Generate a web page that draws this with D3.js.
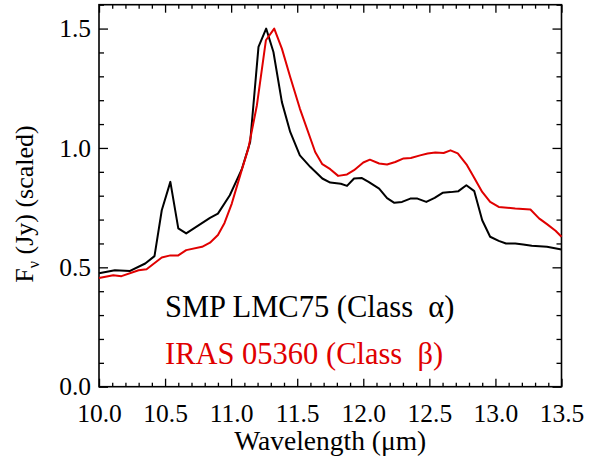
<!DOCTYPE html>
<html>
<head>
<meta charset="utf-8">
<script src="https://cdn.jsdelivr.net/npm/d3@7"></script>
<style>
    body { margin: 0; background: #fff; }
    text { font-family: "Liberation Serif", "DejaVu Serif", serif; }
</style>
</head>
<body>
<div id="graph"></div>
<script>
// Data___________________________________________________
const waveBlack = [10.00, 10.12, 10.235, 10.35, 10.42, 10.475, 10.54, 10.60, 10.66, 10.84,
    10.90, 10.99, 11.08, 11.144, 11.207, 11.265, 11.32, 11.384, 11.447, 11.52,
    11.60, 11.69, 11.75, 11.83, 11.877, 11.93, 11.99, 12.04, 12.12, 12.18,
    12.235, 12.293, 12.356, 12.41, 12.477, 12.54, 12.60, 12.66, 12.72, 12.78,
    12.84, 12.90, 12.96, 13.025, 13.08, 13.15, 13.21, 13.275, 13.39, 13.50];
const fluxBlack = [0.475, 0.488, 0.485, 0.516, 0.547, 0.739, 0.858, 0.663, 0.642, 0.707,
    0.725, 0.802, 0.910, 1.025, 1.423, 1.500, 1.402, 1.192, 1.067, 0.969,
    0.920, 0.872, 0.855, 0.850, 0.841, 0.872, 0.874, 0.858, 0.830, 0.790,
    0.770, 0.774, 0.788, 0.788, 0.774, 0.791, 0.812, 0.815, 0.819, 0.844,
    0.819, 0.697, 0.628, 0.611, 0.600, 0.600, 0.596, 0.590, 0.586, 0.575];

const waveRed = [10.00, 10.108, 10.17, 10.30, 10.36, 10.475, 10.54, 10.60, 10.66, 10.78,
    10.84, 10.90, 10.95, 11.005, 11.08, 11.13, 11.195, 11.263, 11.326, 11.384,
    11.447, 11.52, 11.636, 11.69, 11.75, 11.81, 11.877, 11.93, 12.00, 12.05,
    12.12, 12.18, 12.242, 12.305, 12.36, 12.43, 12.487, 12.545, 12.608, 12.66,
    12.715, 12.785, 12.835, 12.90, 12.96, 13.025, 13.15, 13.265, 13.33, 13.39,
    13.455, 13.50];
const fluxRed = [0.455, 0.467, 0.463, 0.488, 0.492, 0.541, 0.550, 0.550, 0.572, 0.586,
    0.603, 0.635, 0.686, 0.767, 0.907, 0.997, 1.179, 1.451, 1.500, 1.416,
    1.297, 1.165, 0.983, 0.932, 0.911, 0.883, 0.889, 0.907, 0.939, 0.951,
    0.935, 0.931, 0.941, 0.956, 0.958, 0.969, 0.977, 0.981, 0.979, 0.990,
    0.977, 0.928, 0.879, 0.816, 0.774, 0.753, 0.746, 0.742, 0.705, 0.681,
    0.653, 0.628];

const xTicks = [10.0, 10.5, 11.0, 11.5, 12.0, 12.5, 13.0, 13.5];
const yTicks = [0.0, 0.5, 1.0, 1.5];
const legendLabels = [["SMP LMC75 (Class\u00a0\u00a0α)", "#000000"],
                      ["IRAS 05360 (Class\u00a0\u00a0β)", "#e00000"]];

// Variables______________________________________________
const width = 598;
const height = 462;
const plotLeft = 99;
const plotRight = 561.5;
const plotTop = 4.7;
const plotBottom = 386.7;

const svg = d3.select('#graph')
    .append('svg')
    .attr('width', width)
    .attr('height', height);

const xScale = d3.scaleLinear().domain([10, 13.5]).range([plotLeft, plotRight]);
const yScale = d3.scaleLinear().domain([0, 1.6]).range([plotBottom, plotTop]);

const xMinor = d3.range(100, 136).map(d => d / 10).filter(d => !xTicks.some(t => Math.abs(t - d) < 1e-6));
const yMinor = d3.range(0, 17).map(d => d / 10).filter(d => !yTicks.some(t => Math.abs(t - d) < 1e-6));

// Axes___________________________________________________
function drawAxis(axis, pos, cls) {
    const g = svg.append('g')
        .attr('class', cls)
        .attr('transform', pos)
        .call(axis);
    g.select('.domain').remove();
    g.selectAll('line').attr('stroke', '#000').attr('stroke-width', 1.3);
    g.selectAll('text')
        .attr('font-size', 25.5)
        .attr('fill', '#000')
        .attr('font-family', '"Liberation Serif", serif');
    return g;
}

// bottom
drawAxis(d3.axisBottom(xScale).tickValues(xTicks).tickSize(-8).tickPadding(17).tickFormat(d3.format('.1f')),
    `translate(0, ${plotBottom})`, 'x-axis');
drawAxis(d3.axisBottom(xScale).tickValues(xMinor).tickSize(-4).tickFormat(''),
    `translate(0, ${plotBottom})`, 'x-minor');
// top
drawAxis(d3.axisTop(xScale).tickValues(xTicks).tickSize(-8).tickFormat(''),
    `translate(0, ${plotTop})`, 'x-top');
drawAxis(d3.axisTop(xScale).tickValues(xMinor).tickSize(-4).tickFormat(''),
    `translate(0, ${plotTop})`, 'x-top-minor');
// left
drawAxis(d3.axisLeft(yScale).tickValues(yTicks).tickSize(-9).tickPadding(8).tickFormat(d3.format('.1f')),
    `translate(${plotLeft}, 0)`, 'y-axis');
drawAxis(d3.axisLeft(yScale).tickValues(yMinor).tickSize(-5).tickFormat(''),
    `translate(${plotLeft}, 0)`, 'y-minor');
// right
drawAxis(d3.axisRight(yScale).tickValues(yTicks).tickSize(-9).tickFormat(''),
    `translate(${plotRight}, 0)`, 'y-right');
drawAxis(d3.axisRight(yScale).tickValues(yMinor).tickSize(-5).tickFormat(''),
    `translate(${plotRight}, 0)`, 'y-right-minor');

// frame
svg.append('rect')
    .attr('x', plotLeft)
    .attr('y', plotTop)
    .attr('width', plotRight - plotLeft)
    .attr('height', plotBottom - plotTop)
    .attr('fill', 'none')
    .attr('stroke', '#000')
    .attr('stroke-width', 1.6);

// Spectra________________________________________________
const line = d3.line()
    .x(d => xScale(d[0]))
    .y(d => yScale(d[1]));

svg.append('path')
    .datum(waveBlack.map((w, i) => [w, fluxBlack[i]]))
    .attr('d', line)
    .attr('fill', 'none')
    .attr('stroke', '#000')
    .attr('stroke-width', 2)
    .attr('stroke-linejoin', 'round');

svg.append('path')
    .datum(waveRed.map((w, i) => [w, fluxRed[i]]))
    .attr('d', line)
    .attr('fill', 'none')
    .attr('stroke', '#e00000')
    .attr('stroke-width', 2)
    .attr('stroke-linejoin', 'round');

// Legend_________________________________________________
svg.append('g')
    .selectAll('text')
    .data(legendLabels)
    .enter()
    .append('text')
    .attr('x', 165)
    .attr('y', (d, i) => 317 + i * 46.5)
    .attr('font-size', 30.5)
    .attr('fill', d => d[1])
    .text(d => d[0]);

// Titles_________________________________________________
svg.append('text')
    .attr('x', (plotLeft + plotRight) / 2)
    .attr('y', 450)
    .attr('text-anchor', 'middle')
    .attr('font-size', 27.5)
    .text('Wavelength (μm)');

const yTitle = svg.append('text')
    .attr('transform', `translate(33, 204) rotate(-90)`)
    .attr('text-anchor', 'middle')
    .attr('font-size', 26);
yTitle.append('tspan').text('F');
yTitle.append('tspan').attr('font-size', 16).attr('dy', 6).text('ν');
yTitle.append('tspan').attr('dy', -6).text(' (Jy) (scaled)');
</script>
</body>
</html>
